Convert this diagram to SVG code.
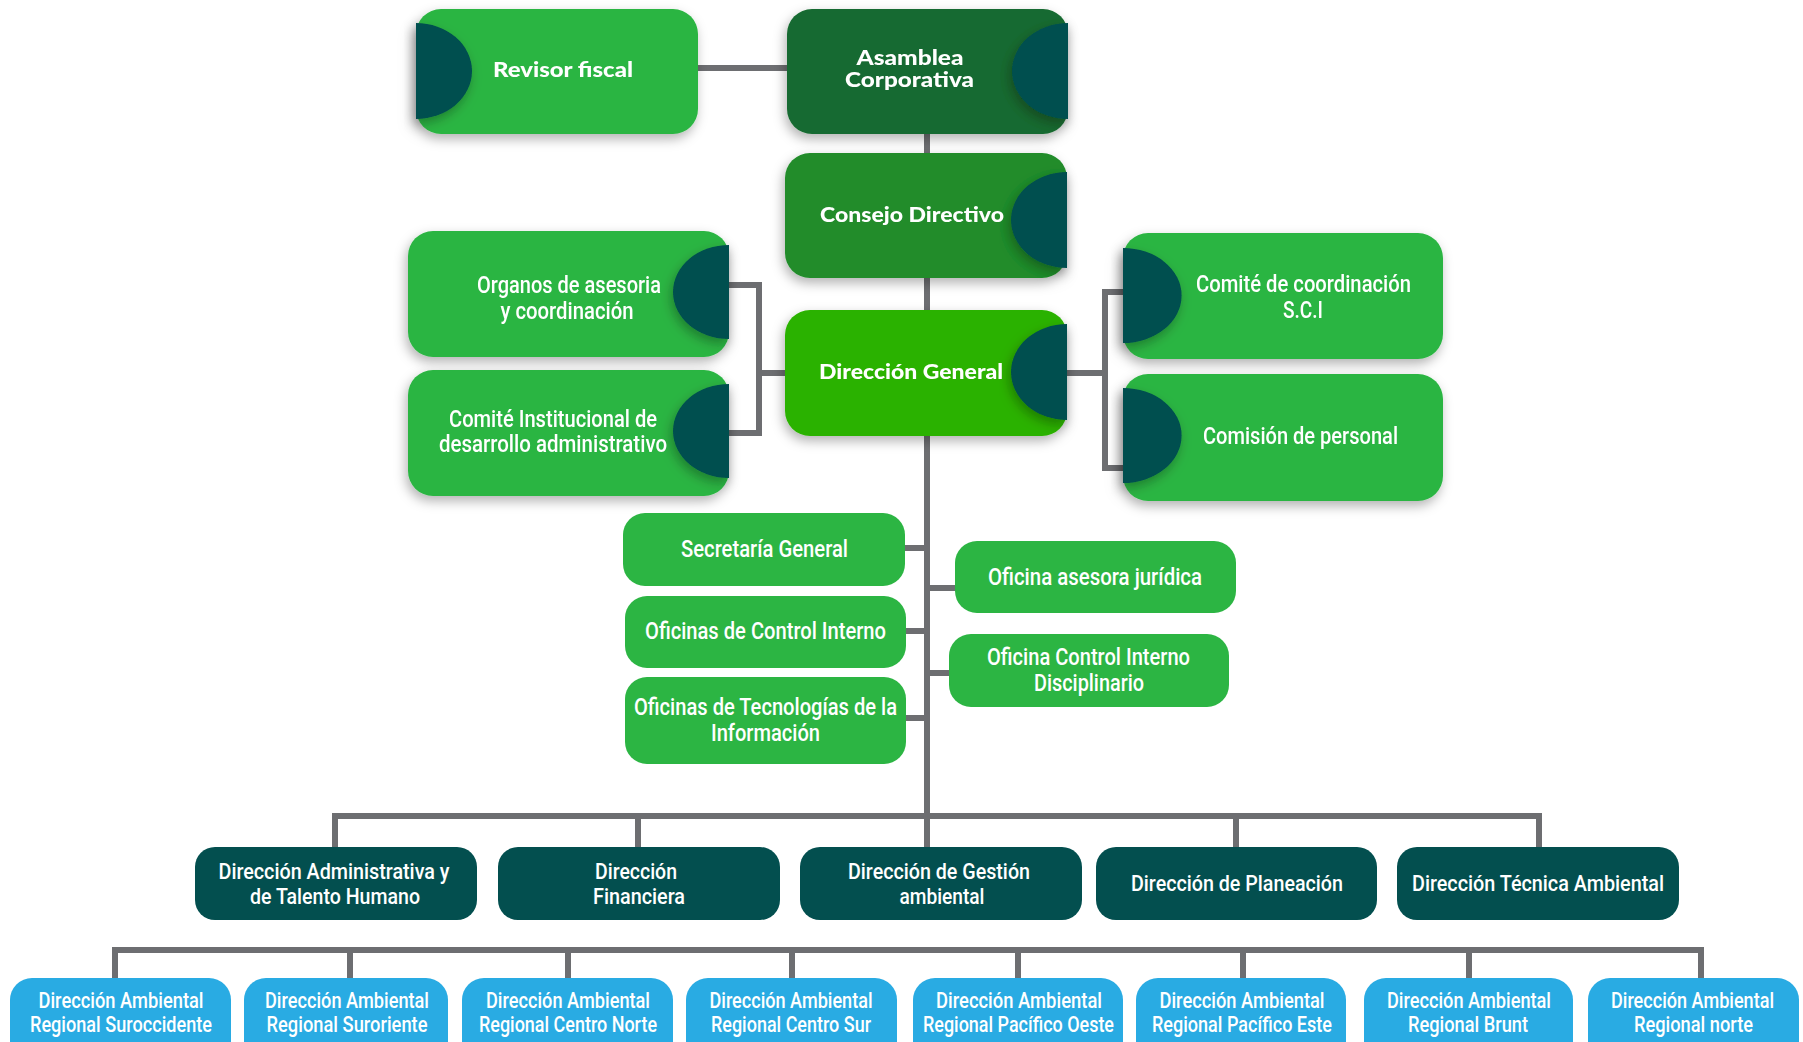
<svg xmlns="http://www.w3.org/2000/svg" width="1803" height="1042" viewBox="0 0 1803 1042">
<defs>
<filter id="sh" x="-20%" y="-25%" width="140%" height="160%">
<feDropShadow dx="-2" dy="5" stdDeviation="6" flood-color="#000" flood-opacity="0.3"/>
</filter>
<style>
.lg{fill:#2cb543}
.half{fill:#024f4f}
.dk{fill:#034f4f}
.bl{fill:#29abe3}
.t{font-family:Roboto,"Liberation Sans",sans-serif;font-weight:500;font-size:24px;fill:#fff;text-anchor:middle}
.s{font-size:22px}
.tb{font-family:Lato,"Liberation Sans",sans-serif;font-weight:900;font-size:21px;fill:#fff;text-anchor:middle}
.c{fill:none;stroke:#6d6e71;stroke-width:6}
</style>
</defs>
<rect width="1803" height="1042" fill="#fff"/>
<g id="connectors">
<path class="c" d="M698 68 H787"/>
<path class="c" d="M927 134 V816"/>
<path class="c" d="M729 285 H759 V433 H729"/>
<path class="c" d="M759 373 H785"/>
<path class="c" d="M1067 373 H1105"/>
<path class="c" d="M1123 292 H1105 V468 H1123"/>
<path class="c" d="M905 548 H927 M906 631 H927 M906 718 H927 M927 588 H955 M927 673 H949"/>
<path class="c" d="M335 847 V816 H1539 V847 M638 816 V847 M927 816 V847 M1236 816 V847"/>
<path class="c" d="M115 978 V950 H1701 V978 M350 950 V978 M568 950 V978 M792 950 V978 M1018 950 V978 M1243 950 V978 M1469 950 V978"/>
</g>
<g id="revisor-fiscal" filter="url(#sh)">
<rect class="lg" x="416" y="9" width="282" height="125" rx="25"/>
<path class="half" d="M416 23 A56 48 0 0 1 416 119 Z" filter="url(#sh)"/>
<text class="tb" x="563" y="77" textLength="140" lengthAdjust="spacingAndGlyphs">Revisor fiscal</text>
</g>
<g id="asamblea-corporativa" filter="url(#sh)">
<rect x="787" y="9" width="281" height="125" rx="25" fill="#176a30"/>
<path class="half" d="M1068 23 A56 48 0 0 0 1068 119 Z" filter="url(#sh)"/>
<text class="tb" x="910" y="65" textLength="107" lengthAdjust="spacingAndGlyphs">Asamblea</text>
<text class="tb" x="909.5" y="87" textLength="129" lengthAdjust="spacingAndGlyphs">Corporativa</text>
</g>
<g id="consejo-directivo" filter="url(#sh)">
<rect x="785" y="153" width="282" height="125" rx="25" fill="#208c2a"/>
<path class="half" d="M1067 172 A56 48 0 0 0 1067 268 Z" filter="url(#sh)"/>
<text class="tb" x="912" y="222" textLength="184" lengthAdjust="spacingAndGlyphs">Consejo Directivo</text>
</g>
<g id="direccion-general" filter="url(#sh)">
<rect x="785" y="310" width="282" height="126" rx="25" fill="#2cb200"/>
<path class="half" d="M1067 324 A56 48 0 0 0 1067 420 Z" filter="url(#sh)"/>
<text class="tb" x="911" y="379" textLength="184" lengthAdjust="spacingAndGlyphs">Dirección General</text>
</g>
<g id="organos-asesoria" filter="url(#sh)">
<rect class="lg" x="408" y="231" width="321" height="126" rx="25"/>
<path class="half" d="M729 245 A56 47 0 0 0 729 339 Z" filter="url(#sh)"/>
<text class="t" x="569" y="293" textLength="184" lengthAdjust="spacingAndGlyphs">Organos de asesoria</text>
<text class="t" x="567" y="319" textLength="133" lengthAdjust="spacingAndGlyphs">y coordinación</text>
</g>
<g id="comite-institucional" filter="url(#sh)">
<rect class="lg" x="408" y="370" width="321" height="126" rx="25"/>
<path class="half" d="M729 384 A56 47 0 0 0 729 478 Z" filter="url(#sh)"/>
<text class="t" x="553" y="427" textLength="208" lengthAdjust="spacingAndGlyphs">Comité Institucional de</text>
<text class="t" x="553" y="452" textLength="228" lengthAdjust="spacingAndGlyphs">desarrollo administrativo</text>
</g>
<g id="comite-coordinacion" filter="url(#sh)">
<rect class="lg" x="1123" y="233" width="320" height="126" rx="25"/>
<path class="half" d="M1123 248 A58 47 0 0 1 1123 343 Z" filter="url(#sh)"/>
<text class="t" x="1303.5" y="292" textLength="215" lengthAdjust="spacingAndGlyphs">Comité de coordinación</text>
<text class="t" x="1303" y="318" textLength="40" lengthAdjust="spacingAndGlyphs">S.C.I</text>
</g>
<g id="comision-personal" filter="url(#sh)">
<rect class="lg" x="1123" y="374" width="320" height="127" rx="25"/>
<path class="half" d="M1123 388 A58 47 0 0 1 1123 483 Z" filter="url(#sh)"/>
<text class="t" x="1300.5" y="444" textLength="195" lengthAdjust="spacingAndGlyphs">Comisión de personal</text>
</g>
<g id="secretaria-general">
<rect class="lg" x="623" y="513" width="282" height="73" rx="22"/>
<text class="t" x="764.5" y="557" textLength="167" lengthAdjust="spacingAndGlyphs">Secretaría General</text>
</g>
<g id="oficinas-control-interno">
<rect class="lg" x="625" y="596" width="281" height="72" rx="22"/>
<text class="t" x="765.5" y="639" textLength="241" lengthAdjust="spacingAndGlyphs">Oficinas de Control Interno</text>
</g>
<g id="oficinas-tecnologias">
<rect class="lg" x="625" y="677" width="281" height="87" rx="22"/>
<text class="t" x="765.5" y="715" textLength="263" lengthAdjust="spacingAndGlyphs">Oficinas de Tecnologías de la</text>
<text class="t" x="765.5" y="741" textLength="109" lengthAdjust="spacingAndGlyphs">Información</text>
</g>
<g id="oficina-asesora-juridica">
<rect class="lg" x="955" y="541" width="281" height="72" rx="22"/>
<text class="t" x="1095" y="585" textLength="214" lengthAdjust="spacingAndGlyphs">Oficina asesora jurídica</text>
</g>
<g id="oficina-control-disciplinario">
<rect class="lg" x="949" y="634" width="280" height="73" rx="22"/>
<text class="t" x="1088.5" y="665" textLength="203" lengthAdjust="spacingAndGlyphs">Oficina Control Interno</text>
<text class="t" x="1089" y="691" textLength="110" lengthAdjust="spacingAndGlyphs">Disciplinario</text>
</g>
<g id="dir-administrativa">
<rect class="dk" x="195" y="847" width="282" height="73" rx="20"/>
<text class="t s" x="334" y="879" textLength="231" lengthAdjust="spacingAndGlyphs">Dirección Administrativa y</text>
<text class="t s" x="335" y="904" textLength="170" lengthAdjust="spacingAndGlyphs">de Talento Humano</text>
</g>
<g id="dir-financiera">
<rect class="dk" x="498" y="847" width="282" height="73" rx="20"/>
<text class="t s" x="636" y="879" textLength="82" lengthAdjust="spacingAndGlyphs">Dirección</text>
<text class="t s" x="639" y="904" textLength="92" lengthAdjust="spacingAndGlyphs">Financiera</text>
</g>
<g id="dir-gestion-ambiental">
<rect class="dk" x="800" y="847" width="282" height="73" rx="20"/>
<text class="t s" x="939" y="879" textLength="182" lengthAdjust="spacingAndGlyphs">Dirección de Gestión</text>
<text class="t s" x="942" y="904" textLength="85" lengthAdjust="spacingAndGlyphs">ambiental</text>
</g>
<g id="dir-planeacion">
<rect class="dk" x="1096" y="847" width="281" height="73" rx="20"/>
<text class="t s" x="1237" y="891" textLength="212" lengthAdjust="spacingAndGlyphs">Dirección de Planeación</text>
</g>
<g id="dir-tecnica-ambiental">
<rect class="dk" x="1397" y="847" width="282" height="73" rx="20"/>
<text class="t s" x="1538" y="891" textLength="252" lengthAdjust="spacingAndGlyphs">Dirección Técnica Ambiental</text>
</g>
<g id="regional-suroccidente">
<rect class="bl" x="10" y="978" width="221" height="90" rx="22"/>
<text class="t s" x="121" y="1008" textLength="165" lengthAdjust="spacingAndGlyphs">Dirección Ambiental</text>
<text class="t s" x="121" y="1032" textLength="182" lengthAdjust="spacingAndGlyphs">Regional Suroccidente</text>
</g>
<g id="regional-suroriente">
<rect class="bl" x="244" y="978" width="204" height="90" rx="22"/>
<text class="t s" x="347" y="1008" textLength="164" lengthAdjust="spacingAndGlyphs">Dirección Ambiental</text>
<text class="t s" x="347" y="1032" textLength="161" lengthAdjust="spacingAndGlyphs">Regional Suroriente</text>
</g>
<g id="regional-centro-norte">
<rect class="bl" x="462" y="978" width="211" height="90" rx="22"/>
<text class="t s" x="568" y="1008" textLength="164" lengthAdjust="spacingAndGlyphs">Dirección Ambiental</text>
<text class="t s" x="568" y="1032" textLength="178" lengthAdjust="spacingAndGlyphs">Regional Centro Norte</text>
</g>
<g id="regional-centro-sur">
<rect class="bl" x="686" y="978" width="211" height="90" rx="22"/>
<text class="t s" x="791" y="1008" textLength="163" lengthAdjust="spacingAndGlyphs">Dirección Ambiental</text>
<text class="t s" x="791" y="1032" textLength="160" lengthAdjust="spacingAndGlyphs">Regional Centro Sur</text>
</g>
<g id="regional-pacifico-oeste">
<rect class="bl" x="913" y="978" width="210" height="90" rx="22"/>
<text class="t s" x="1019" y="1008" textLength="166" lengthAdjust="spacingAndGlyphs">Dirección Ambiental</text>
<text class="t s" x="1018.5" y="1032" textLength="191" lengthAdjust="spacingAndGlyphs">Regional Pacífico Oeste</text>
</g>
<g id="regional-pacifico-este">
<rect class="bl" x="1136" y="978" width="210" height="90" rx="22"/>
<text class="t s" x="1242" y="1008" textLength="165" lengthAdjust="spacingAndGlyphs">Dirección Ambiental</text>
<text class="t s" x="1242" y="1032" textLength="180" lengthAdjust="spacingAndGlyphs">Regional Pacífico Este</text>
</g>
<g id="regional-brunt">
<rect class="bl" x="1364" y="978" width="209" height="90" rx="22"/>
<text class="t s" x="1469" y="1008" textLength="164" lengthAdjust="spacingAndGlyphs">Dirección Ambiental</text>
<text class="t s" x="1468" y="1032" textLength="120" lengthAdjust="spacingAndGlyphs">Regional Brunt</text>
</g>
<g id="regional-norte">
<rect class="bl" x="1588" y="978" width="211" height="90" rx="22"/>
<text class="t s" x="1692.5" y="1008" textLength="163" lengthAdjust="spacingAndGlyphs">Dirección Ambiental</text>
<text class="t s" x="1693.5" y="1032" textLength="119" lengthAdjust="spacingAndGlyphs">Regional norte</text>
</g>
</svg>
